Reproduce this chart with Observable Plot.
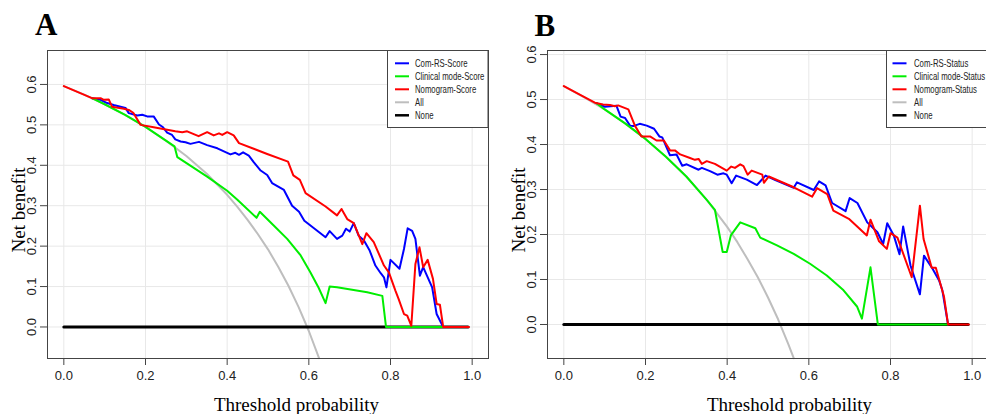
<!DOCTYPE html>
<html><head><meta charset="utf-8">
<script src="https://cdn.jsdelivr.net/npm/d3@7"></script>
<script src="https://cdn.jsdelivr.net/npm/@observablehq/plot@0.6"></script>
<style>
body{margin:0;background:#fff;}
#wrap{position:relative;width:986px;height:414px;overflow:hidden;background:#fff;}
#wrap > svg{position:absolute;top:0;}
</style></head><body><div id="wrap"></div>
<script>
// ---------- axis ticks ----------
const xTicks = [0, 0.2, 0.4, 0.6, 0.8, 1.0];
const xTickLabels = ["0.0", "0.2", "0.4", "0.6", "0.8", "1.0"];
const yTicks = [0, 0.1, 0.2, 0.3, 0.4, 0.5, 0.6];
const yTickLabels = ["0.0", "0.1", "0.2", "0.3", "0.4", "0.5", "0.6"];

// ---------- legends ----------
const legendA = ["Com-RS-Score", "Clinical mode-Score", "Nomogram-Score", "All", "None"];
const legendB = ["Com-RS-Status", "Clinical mode-Status", "Nomogram-Status", "All", "None"];

// ---------- panel A data: [threshold, net benefit] ----------
const aAll = [[0,0.596],[0.05,0.575],[0.1,0.551],[0.15,0.525],[0.2,0.495],[0.25,0.461],[0.3,0.423],[0.35,0.379],[0.4,0.327],[0.425,0.297],[0.45,0.265],[0.475,0.230],[0.5,0.192],[0.525,0.149],[0.55,0.102],[0.575,0.049],[0.6,-0.010],[0.625,-0.077]];
const aNone = [[0,0],[0.99,0]];
const aComRS = [[0.069,0.566],[0.09,0.562],[0.106,0.554],[0.122,0.549],[0.139,0.545],[0.151,0.542],[0.159,0.529],[0.18,0.523],[0.192,0.525],[0.204,0.521],[0.22,0.521],[0.233,0.501],[0.243,0.494],[0.253,0.481],[0.265,0.475],[0.273,0.464],[0.286,0.459],[0.298,0.457],[0.31,0.453],[0.331,0.458],[0.351,0.45],[0.376,0.442],[0.408,0.427],[0.42,0.431],[0.429,0.426],[0.439,0.432],[0.453,0.424],[0.465,0.408],[0.482,0.387],[0.498,0.376],[0.51,0.356],[0.539,0.339],[0.559,0.30],[0.576,0.285],[0.589,0.263],[0.641,0.222],[0.651,0.237],[0.669,0.218],[0.682,0.226],[0.691,0.243],[0.7,0.236],[0.71,0.257],[0.722,0.226],[0.735,0.214],[0.749,0.189],[0.763,0.152],[0.776,0.133],[0.784,0.123],[0.79,0.098],[0.8,0.166],[0.822,0.144],[0.833,0.193],[0.842,0.244],[0.853,0.238],[0.861,0.218],[0.872,0.127],[0.88,0.148],[0.902,0.098],[0.913,0.032],[0.929,0],[0.93,0]];
const aClinical = [[0.069,0.566],[0.1,0.551],[0.15,0.525],[0.2,0.495],[0.25,0.461],[0.271,0.447],[0.278,0.420],[0.351,0.372],[0.4,0.337],[0.425,0.315],[0.472,0.270],[0.48,0.285],[0.514,0.251],[0.547,0.218],[0.58,0.177],[0.604,0.135],[0.624,0.097],[0.641,0.059],[0.651,0.1],[0.669,0.098],[0.743,0.086],[0.78,0.077],[0.789,0],[0.929,0]];
const aNomogram = [[0,0.596],[0.069,0.566],[0.09,0.566],[0.098,0.562],[0.11,0.563],[0.118,0.545],[0.147,0.540],[0.159,0.537],[0.17,0.530],[0.188,0.5],[0.22,0.494],[0.253,0.488],[0.273,0.484],[0.29,0.482],[0.302,0.484],[0.33,0.472],[0.351,0.482],[0.367,0.474],[0.38,0.479],[0.388,0.475],[0.4,0.482],[0.416,0.474],[0.429,0.455],[0.465,0.441],[0.498,0.428],[0.549,0.409],[0.562,0.375],[0.578,0.364],[0.592,0.331],[0.641,0.298],[0.669,0.276],[0.68,0.292],[0.694,0.267],[0.71,0.257],[0.731,0.205],[0.741,0.232],[0.759,0.21],[0.784,0.152],[0.796,0.135],[0.812,0.09],[0.82,0.069],[0.833,0.032],[0.841,0.028],[0.851,0.003],[0.861,0.156],[0.871,0.197],[0.88,0.148],[0.891,0.166],[0.904,0.119],[0.913,0.057],[0.921,0.055],[0.929,0],[0.992,0]];

// ---------- panel B data ----------
const bAll = [[0,0.53],[0.05,0.505],[0.1,0.478],[0.15,0.447],[0.2,0.4125],[0.25,0.373],[0.3,0.329],[0.35,0.277],[0.4,0.217],[0.425,0.183],[0.45,0.145],[0.475,0.105],[0.5,0.06],[0.525,0.011],[0.55,-0.044],[0.563,-0.075]];
const bNone = [[0,0],[0.99,0]];
const bComRS = [[0.08,0.492],[0.1,0.484],[0.129,0.486],[0.139,0.462],[0.15,0.459],[0.162,0.442],[0.17,0.441],[0.186,0.446],[0.203,0.442],[0.221,0.435],[0.234,0.418],[0.241,0.416],[0.26,0.376],[0.276,0.378],[0.29,0.353],[0.301,0.356],[0.33,0.344],[0.338,0.348],[0.358,0.341],[0.376,0.333],[0.391,0.336],[0.399,0.333],[0.411,0.314],[0.422,0.331],[0.448,0.322],[0.473,0.31],[0.494,0.331],[0.518,0.321],[0.563,0.304],[0.571,0.316],[0.612,0.299],[0.625,0.318],[0.641,0.309],[0.657,0.27],[0.69,0.252],[0.70,0.281],[0.719,0.27],[0.743,0.227],[0.768,0.205],[0.782,0.179],[0.792,0.225],[0.808,0.198],[0.822,0.156],[0.831,0.218],[0.849,0.131],[0.872,0.067],[0.882,0.153],[0.903,0.124],[0.919,0.098],[0.927,0.076],[0.941,0]];
const bClinical = [[0.08,0.492],[0.1,0.478],[0.15,0.447],[0.2,0.4125],[0.25,0.373],[0.3,0.329],[0.35,0.277],[0.37,0.255],[0.389,0.161],[0.399,0.161],[0.409,0.198],[0.432,0.227],[0.469,0.214],[0.481,0.193],[0.522,0.176],[0.563,0.157],[0.603,0.135],[0.644,0.109],[0.685,0.076],[0.718,0.04],[0.73,0.013],[0.751,0.127],[0.769,0],[0.94,0]];
const bNomogram = [[0,0.53],[0.039,0.511],[0.076,0.493],[0.096,0.489],[0.113,0.488],[0.125,0.485],[0.133,0.487],[0.158,0.478],[0.174,0.442],[0.19,0.418],[0.211,0.418],[0.227,0.409],[0.245,0.409],[0.26,0.387],[0.272,0.387],[0.285,0.378],[0.309,0.37],[0.321,0.366],[0.33,0.368],[0.338,0.357],[0.35,0.363],[0.37,0.357],[0.399,0.342],[0.41,0.351],[0.419,0.348],[0.432,0.356],[0.44,0.352],[0.45,0.333],[0.46,0.342],[0.486,0.333],[0.49,0.315],[0.502,0.329],[0.563,0.305],[0.608,0.284],[0.62,0.303],[0.645,0.29],[0.66,0.253],[0.698,0.235],[0.742,0.198],[0.751,0.233],[0.772,0.185],[0.791,0.168],[0.80,0.203],[0.817,0.193],[0.852,0.105],[0.872,0.264],[0.881,0.19],[0.901,0.126],[0.911,0.126],[0.931,0.062],[0.941,0],[0.992,0]];

// ---------- styles ----------
const colors = ["#0000ff", "#00ee00", "#ff0000", "#bebebe", "#000000"];
const sans = '"Liberation Sans",Arial,sans-serif';
const serif = '"Liberation Serif","Times New Roman",serif';

function makePanel(cfg) {
  const P = {x: d => d[0], y: d => d[1]};
  return Plot.plot({
    width: cfg.width, height: 414,
    marginLeft: cfg.marginLeft, marginRight: cfg.marginRight, marginTop: 50, marginBottom: 56,
    x: {domain: [-0.04, 1.04]},
    y: {domain: cfg.yDomain},
    style: {fontFamily: sans, fontSize: "13px", background: "transparent", color: "#222"},
    marks: [
      Plot.gridX(xTicks, {stroke: "#e8e8e8", strokeOpacity: 1}),
      Plot.gridY(yTicks, {stroke: "#e8e8e8", strokeOpacity: 1}),
      Plot.line(cfg.all, {...P, stroke: colors[3], strokeWidth: 2}),
      Plot.line(cfg.none, {...P, stroke: colors[4], strokeWidth: 3}),
      Plot.line(cfg.blue, {...P, stroke: colors[0], strokeWidth: 2}),
      Plot.line(cfg.green, {...P, stroke: colors[1], strokeWidth: 2}),
      Plot.line(cfg.red, {...P, stroke: colors[2], strokeWidth: 2}),
      Plot.frame({stroke: "#444"}),
      Plot.axisX(xTicks, {tickSize: 7, tickPadding: 5, label: null, stroke: "#444",
        tickFormat: d => xTickLabels[xTicks.indexOf(d)]}),
      Plot.axisY(yTicks, {tickSize: 7, label: null, stroke: "#444", tickFormat: () => ""}),
      Plot.text(yTicks, {y: d => d, text: d => yTickLabels[yTicks.indexOf(d)], frameAnchor: "left",
        dx: -15.5, rotate: -90, textAnchor: "middle", lineAnchor: "middle", fill: "#222"})
    ]
  });
}

const wrap = document.getElementById("wrap");
const svgA = makePanel({width: 493, marginLeft: 47, marginRight: 5, yDomain: [-0.078, 0.684],
  all: aAll, none: aNone, blue: aComRS, green: aClinical, red: aNomogram});
svgA.style.left = "0px";
wrap.appendChild(svgA);
const svgB = makePanel({width: 495, marginLeft: 54, marginRight: 0, yDomain: [-0.0756, 0.609],
  all: bAll, none: bNone, blue: bComRS, green: bClinical, red: bNomogram});
svgB.style.left = "493px";
wrap.appendChild(svgB);

// ---------- overlay: panel letters, axis titles, legends ----------
const ov = d3.create("svg").attr("width", 986).attr("height", 414)
  .style("position", "absolute").style("left", "0px").style("top", "0px");

function annotate(ox, letterX, letterY, xTitleX, yTitleX, legendX, legendW, names, lineX0, textX) {
  ov.append("text").attr("x", letterX).attr("y", letterY).text(ox)
    .attr("font-family", serif).attr("font-weight", "bold").attr("font-size", 31);
  ov.append("text").attr("x", xTitleX).attr("y", 411).attr("text-anchor", "middle")
    .attr("font-family", serif).attr("font-size", 19).text("Threshold probability");
  ov.append("text").attr("transform", `translate(${yTitleX},210) rotate(-90)`).attr("text-anchor", "middle")
    .attr("font-family", serif).attr("font-size", 19).text("Net benefit");
  ov.append("rect").attr("x", legendX).attr("y", 50.5).attr("width", legendW).attr("height", 77)
    .attr("fill", "#fff").attr("stroke", "#444");
  names.forEach((n, i) => {
    const cy = 63.3 + 13 * i;
    ov.append("line").attr("x1", lineX0).attr("x2", lineX0 + 14).attr("y1", cy).attr("y2", cy)
      .attr("stroke", colors[i]).attr("stroke-width", i === 4 ? 2.5 : 2);
    ov.append("text").attr("transform", `translate(${textX},${cy}) scale(0.74,1)`).attr("dy", "0.35em")
      .attr("font-family", sans).attr("font-size", 10.5).attr("fill", "#222").text(n);
  });
}
annotate("A", 35, 35, 296.5, 25, 387.5, 100.5, legendA, 395, 415);
annotate("B", 534.5, 36, 789.5, 525, 886.5, 120, legendB, 892.5, 914);
wrap.appendChild(ov.node());
</script></body></html>
